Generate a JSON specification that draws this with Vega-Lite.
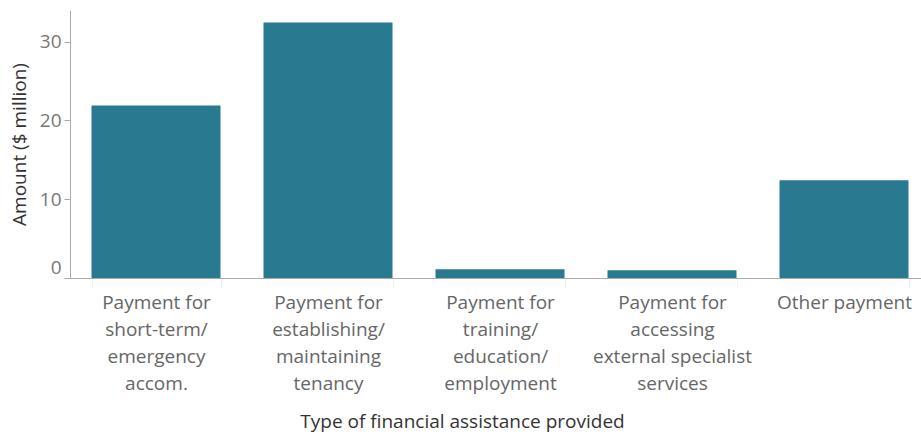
{
  "$schema": "https://vega.github.io/schema/vega-lite/v6.json",
  "width": 860,
  "height": 268,
  "autosize": {"type": "none"},
  "padding": {"left": 70, "top": 10, "right": 0, "bottom": 156},
  "background": "white",
  "config": {"view": {"stroke": null}, "font": "Open Sans"},
  "data": {
    "values": [
      {"type": "Payment for|short-term/|emergency|accom.", "amount": 21.9},
      {"type": "Payment for|establishing/|maintaining|tenancy", "amount": 32.4},
      {"type": "Payment for|training/|education/|employment", "amount": 1.1},
      {"type": "Payment for|accessing|external specialist|services", "amount": 0.97},
      {"type": "Other payment", "amount": 12.4}
    ]
  },
  "mark": {"type": "bar", "color": "#297991"},
  "encoding": {
    "x": {
      "field": "type",
      "type": "nominal",
      "sort": null,
      "scale": {"paddingInner": 0.25, "paddingOuter": 0.125},
      "axis": {
        "title": "Type of financial assistance provided",
        "titleX": 392,
        "titleY": 134,
        "titleBaseline": "top",
        "titleFontSize": 19,
        "titleFontWeight": "normal",
        "titleColor": "#333333",
        "labelExpr": "split(datum.label, '|')",
        "labelAngle": 0,
        "labelFontSize": 19,
        "labelColor": "#666666",
        "labelLineHeight": 27,
        "labelPadding": 5,
        "labelBaseline": "top",
        "domainColor": "#aaaaaa",
        "ticks": true,
        "tickBand": "extent",
        "tickColor": "#f0f0f0",
        "tickSize": 10
      }
    },
    "y": {
      "field": "amount",
      "type": "quantitative",
      "scale": {"domain": [0, 34], "nice": false},
      "axis": {
        "title": "Amount ($ million)",
        "titleFontSize": 19,
        "titleFontWeight": "normal",
        "titleColor": "#333333",
        "titlePadding": 10,
        "values": [0, 10, 20, 30],
        "grid": false,
        "labelFontSize": 19,
        "labelColor": "#777777",
        "labelPadding": 3,
        "labelFlush": false,
        "labelOffset": {"condition": {"test": "datum.value === 0", "value": -11}, "value": 0},
        "tickSize": 6,
        "tickColor": "#aaaaaa",
        "domainColor": "#aaaaaa"
      }
    }
  }
}
